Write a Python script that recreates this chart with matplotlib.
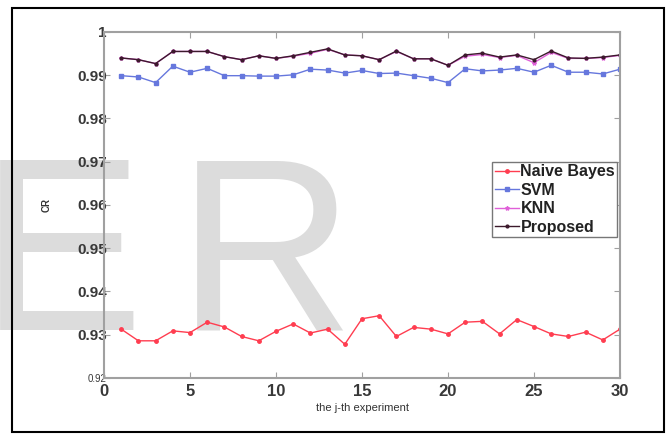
import matplotlib
matplotlib.use("Agg")
import matplotlib.pyplot as plt
from matplotlib.patches import Rectangle

plt.rcParams['font.family'] = ['Liberation Sans', 'DejaVu Sans']

# accuracy per experiment
experiments = list(range(1, 31))
naive_bayes = [0.9313, 0.9286, 0.9286, 0.9309, 0.9305, 0.9329, 0.9318, 0.9296, 0.9286, 0.9308,
               0.9325, 0.9304, 0.9313, 0.9278, 0.9337, 0.9344, 0.9296, 0.9317, 0.9313, 0.9302,
               0.9329, 0.9331, 0.9302, 0.9335, 0.9319, 0.9302, 0.9296, 0.9306, 0.9288, 0.9313]
svm = [0.9899, 0.9896, 0.9883, 0.9921, 0.9907, 0.9916, 0.9899, 0.9899, 0.9898, 0.9898,
       0.9901, 0.9914, 0.9912, 0.9905, 0.9911, 0.9904, 0.9905, 0.9899, 0.9893, 0.9883,
       0.9915, 0.9910, 0.9912, 0.9916, 0.9907, 0.9923, 0.9907, 0.9907, 0.9903, 0.9914]
knn = [0.9940, 0.9936, 0.9927, 0.9955, 0.9955, 0.9955, 0.9943, 0.9936, 0.9945, 0.9939,
       0.9944, 0.9951, 0.9960, 0.9947, 0.9945, 0.9936, 0.9955, 0.9938, 0.9938, 0.9923,
       0.9944, 0.9948, 0.9941, 0.9946, 0.9929, 0.9953, 0.9939, 0.9939, 0.9941, 0.9946]
proposed = [0.9940, 0.9936, 0.9927, 0.9955, 0.9955, 0.9955, 0.9943, 0.9936, 0.9945, 0.9939,
            0.9945, 0.9953, 0.9961, 0.9947, 0.9945, 0.9936, 0.9956, 0.9938, 0.9938, 0.9923,
            0.9947, 0.9951, 0.9942, 0.9947, 0.9936, 0.9956, 0.9940, 0.9939, 0.9942, 0.9947]

xticks = [0, 5, 10, 15, 20, 25, 30]
yticks = [0.92, 0.93, 0.94, 0.95, 0.96, 0.97, 0.98, 0.99, 1.0]
ytick_labels = ['0.92', '0.93', '0.94', '0.95', '0.96', '0.97', '0.98', '0.99', '1']

W, H = 670, 438
fig = plt.figure(figsize=(W / 100, H / 100), dpi=100)

# watermark behind everything
wm = dict(fontsize=177, color='#dcdcdc', va='baseline', ha='left', zorder=-5)
fig.text(-20 / W, (H - 330) / H, 'E', **wm)
fig.text(177 / W, (H - 330) / H, 'R', **wm)

ax = fig.add_axes([104 / W, (H - 378) / H, 516 / W, 346 / H])
ax.patch.set_alpha(0)

ax.plot(experiments, naive_bayes, color='#ff3d50', marker='.', markersize=5, lw=1, label='Naive Bayes')
ax.plot(experiments, svm, color='#6677dd', marker='s', markersize=3, lw=1, label='SVM')
ax.plot(experiments, knn, color='#e060d8', marker='*', markersize=3, lw=1, label='KNN')
ax.plot(experiments, proposed, color='#3c1a2c', marker='.', markersize=4, lw=1, label='Proposed')

ax.set_xlim(0, 30)
ax.set_ylim(0.92, 1.0)
ax.set_xticks(xticks)
ax.set_yticks(yticks)
ax.set_yticklabels(ytick_labels)
for s in ax.spines.values():
    s.set_color('#a0a0a0')
    s.set_linewidth(1.5)
ax.tick_params(direction='in', length=4, color='#a0a0a0', top=True, right=True,
               labelcolor='#383838', pad=1)
ax.tick_params(axis='y', labelsize=11, pad=-2)
ax.tick_params(axis='x', labelsize=12, pad=4)
for t in ax.get_yticklabels():
    t.set_fontweight('bold')
ax.get_yticklabels()[0].set_fontsize(7)
ax.get_yticklabels()[0].set_fontweight('normal')
for t in ax.get_xticklabels():
    t.set_fontweight('bold')

ax.set_xlabel('the j-th experiment', fontsize=8, color='#333333', labelpad=3)
fig.text(47 / W, (H - 205) / H, 'CR', rotation=90, fontsize=7, fontweight='bold',
         color='#333333', ha='center', va='center')

leg = ax.legend(loc='upper right', bbox_to_anchor=(0.995, 0.625),
                prop={'weight': 'bold', 'size': 11.5}, fancybox=False, framealpha=1,
                edgecolor='#777777', handlelength=1.5, handletextpad=0.1,
                borderpad=0.15, labelspacing=0.22, borderaxespad=0)
for t in leg.get_texts():
    t.set_color('#222222')

# outer frame
fig.patches.append(Rectangle((12 / W, (H - 432) / H), 652 / W, 424 / H,
                             transform=fig.transFigure, fill=False,
                             edgecolor='black', linewidth=1.5))

fig.savefig('out.png', dpi=100)
